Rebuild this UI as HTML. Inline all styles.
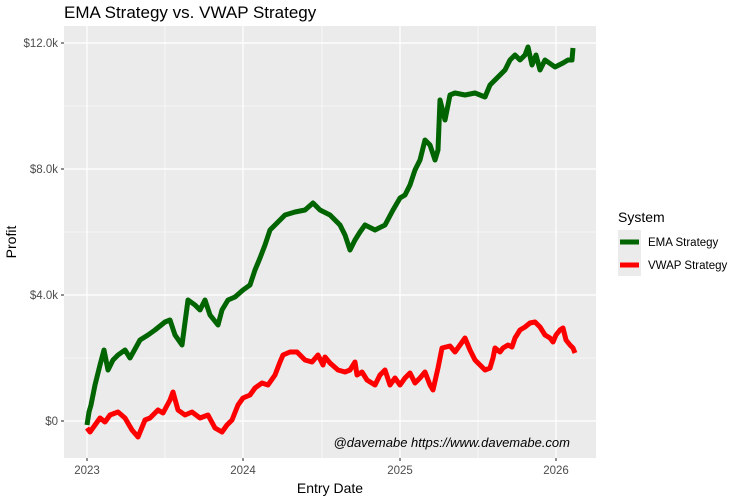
<!DOCTYPE html>
<html><head><meta charset="utf-8"><style>body{margin:0;background:#fff}svg{display:block}text{font-family:"Liberation Sans",sans-serif}</style></head><body>
<svg width="731" height="497" viewBox="0 0 731 497" xmlns="http://www.w3.org/2000/svg">
<rect width="731" height="497" fill="#fff"/>
<text x="64" y="18" font-size="17" fill="#000">EMA Strategy vs. VWAP Strategy</text>
<rect x="64" y="26" width="532" height="432" fill="#ebebeb"/>
<g stroke="#fff" stroke-width="0.6">
<line x1="64" x2="596" y1="106" y2="106"/><line x1="64" x2="596" y1="232" y2="232"/><line x1="64" x2="596" y1="358" y2="358"/>
<line y1="26" y2="458" x1="165" x2="165"/><line y1="26" y2="458" x1="322" x2="322"/><line y1="26" y2="458" x1="478" x2="478"/>
</g>
<g stroke="#fff" stroke-width="1.2">
<line x1="64" x2="596" y1="43" y2="43"/><line x1="64" x2="596" y1="169" y2="169"/><line x1="64" x2="596" y1="295" y2="295"/><line x1="64" x2="596" y1="421" y2="421"/>
<line y1="26" y2="458" x1="87" x2="87"/><line y1="26" y2="458" x1="243" x2="243"/><line y1="26" y2="458" x1="400" x2="400"/><line y1="26" y2="458" x1="556" x2="556"/>
</g>
<polyline fill="none" stroke="#006400" stroke-width="5" stroke-linejoin="round" points="87,425 89,412 91,405 95,385 100,365 104,350 108,370 113,360 118,355 125,350 130,358 140,340 148,335 155,330 165,322 170,320 175,335 182,345 188,300 195,305 200,310 205,300 210,315 218,325 222,310 228,300 235,297 243,290 250,285 255,270 260,258 265,245 270,230 275,225 285,215 295,212 305,210 313,203 320,210 330,215 340,225 345,235 350,250 355,240 360,232 365,225 375,230 385,225 393,210 400,198 405,195 410,185 415,170 420,160 425,140 430,145 435,160 438,150 440,100 445,120 450,95 455,93 465,95 475,93 485,97 490,85 497,78 505,70 510,60 515,55 520,60 525,55 528,47 532,65 536,55 540,70 545,60 555,67 563,63 568,60 572,60 573,48"/>
<polyline fill="none" stroke="#ff0000" stroke-width="5" stroke-linejoin="round" points="87,428 90,432 95,425 100,418 105,422 110,415 118,412 125,418 132,430 138,437 145,420 150,418 158,410 163,413 170,400 173,392 178,410 185,415 192,412 200,418 208,415 215,428 222,432 227,425 232,420 238,405 243,398 250,395 255,388 262,383 268,385 275,375 280,362 283,355 290,352 297,352 305,360 312,362 318,355 323,365 325,357 330,363 338,370 345,372 350,370 355,362 357,375 362,372 367,380 375,385 380,375 385,370 390,385 395,378 400,385 405,378 410,373 415,383 420,378 425,372 430,385 433,390 438,368 442,348 450,346 455,352 460,345 465,338 470,350 475,360 480,365 485,370 490,368 493,358 495,348 500,352 503,348 508,345 512,347 515,338 520,330 525,327 530,323 535,322 540,327 545,335 550,338 553,342 556,335 560,330 563,328 566,340 570,345 573,348 575,353"/>
<text x="570" y="447" font-size="13" font-style="italic" text-anchor="end" fill="#000">@davemabe https://www.davemabe.com</text>
<g stroke="#333" stroke-width="1.1">
<line x1="61" x2="64" y1="43" y2="43"/><line x1="61" x2="64" y1="169" y2="169"/><line x1="61" x2="64" y1="295" y2="295"/><line x1="61" x2="64" y1="421" y2="421"/>
<line y1="458" y2="461" x1="87" x2="87"/><line y1="458" y2="461" x1="243" x2="243"/><line y1="458" y2="461" x1="400" x2="400"/><line y1="458" y2="461" x1="556" x2="556"/>
</g>
<g font-size="11.5" fill="#4d4d4d" text-anchor="end">
<text x="58" y="47">$12.0k</text><text x="58" y="173">$8.0k</text><text x="58" y="299">$4.0k</text><text x="58" y="425">$0</text>
</g>
<g font-size="11.5" fill="#4d4d4d" text-anchor="middle">
<text x="87" y="474">2023</text><text x="243" y="474">2024</text><text x="400" y="474">2025</text><text x="556" y="474">2026</text>
</g>
<text x="330" y="493" font-size="14" text-anchor="middle" fill="#000">Entry Date</text>
<text transform="translate(16,242) rotate(-90)" font-size="14" text-anchor="middle" fill="#000">Profit</text>
<text x="618" y="222" font-size="14" fill="#000">System</text>
<rect x="618" y="230" width="23" height="46" fill="#ebebeb"/>
<line x1="620" x2="639" y1="242" y2="242" stroke="#006400" stroke-width="5"/>
<line x1="620" x2="639" y1="265" y2="265" stroke="#ff0000" stroke-width="5"/>
<text x="648" y="246" font-size="11.5" fill="#000">EMA Strategy</text>
<text x="648" y="269" font-size="11.5" fill="#000">VWAP Strategy</text>
</svg>
</body></html>
